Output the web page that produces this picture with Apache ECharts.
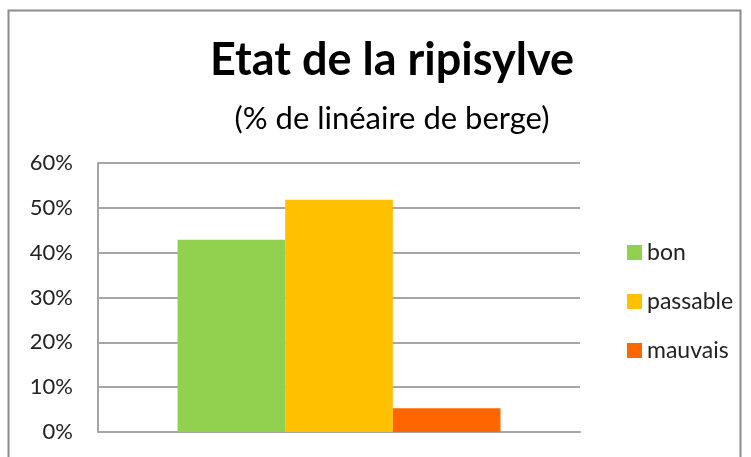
<!DOCTYPE html>
<html>
<head>
<meta charset="utf-8">
<script src="https://cdn.jsdelivr.net/npm/echarts@6/dist/echarts.min.js"></script>
<style>
html, body { margin: 0; padding: 0; background: #fff; }
#chart { width: 751px; height: 457px; }
</style>
</head>
<body>
<div id="chart"></div>
<script>
var categories = [''];
var seriesNames = ['bon', 'passable', 'mauvais'];
var seriesValues = [[42.9], [51.8], [5.3]];
var seriesColors = ['#92D050', '#FFC000', '#FF6600'];

var chart = echarts.init(document.getElementById('chart'));

var series = seriesNames.map(function (name, i) {
    return {
        name: name,
        type: 'bar',
        data: seriesValues[i],
        barGap: '0%',
        barCategoryGap: '33%',
        itemStyle: { color: seriesColors[i] }
    };
});

var option = {
    backgroundColor: '#fff',
    animation: false,
    graphic: [{
        type: 'rect',
        shape: { x: 8.5, y: 10.5, width: 732, height: 470 },
        style: { fill: 'none', stroke: '#8c8c8c', lineWidth: 2 },
        silent: true
    }],
    title: {
        text: 'Etat de la ripisylve',
        subtext: '(% de linéaire de berge)',
        left: 387,
        textAlign: 'center',
        top: 33,
        itemGap: 20,
        textStyle: {
            fontFamily: 'Lato',
            fontWeight: 'bold',
            fontSize: 45,
            color: '#000'
        },
        subtextStyle: {
            fontFamily: 'Lato',
            fontWeight: 'normal',
            fontSize: 31,
            color: '#000'
        }
    },
    legend: {
        orient: 'vertical',
        left: 622,
        top: 236,
        itemGap: 26,
        itemWidth: 15,
        itemHeight: 15,
        icon: 'rect',
        data: seriesNames,
        textStyle: {
            fontFamily: 'Lato',
            fontSize: 23,
            color: '#222'
        }
    },
    grid: {
        left: 98,
        right: 171,
        top: 163,
        bottom: 25
    },
    xAxis: {
        type: 'category',
        data: categories,
        axisTick: { show: false },
        axisLabel: { show: false },
        axisLine: { lineStyle: { color: '#a6a6a6', width: 2 } }
    },
    yAxis: {
        type: 'value',
        min: 0,
        max: 60,
        interval: 10,
        axisLine: { show: true, lineStyle: { color: '#a6a6a6', width: 2 } },
        axisTick: { show: false },
        axisLabel: {
            formatter: '{value}%',
            fontFamily: 'Lato',
            fontSize: 22,
            color: '#222',
            margin: 25
        },
        splitLine: { lineStyle: { color: '#a6a6a6', width: 2 } }
    },
    series: series
};

chart.setOption(option);
</script>
</body>
</html>
